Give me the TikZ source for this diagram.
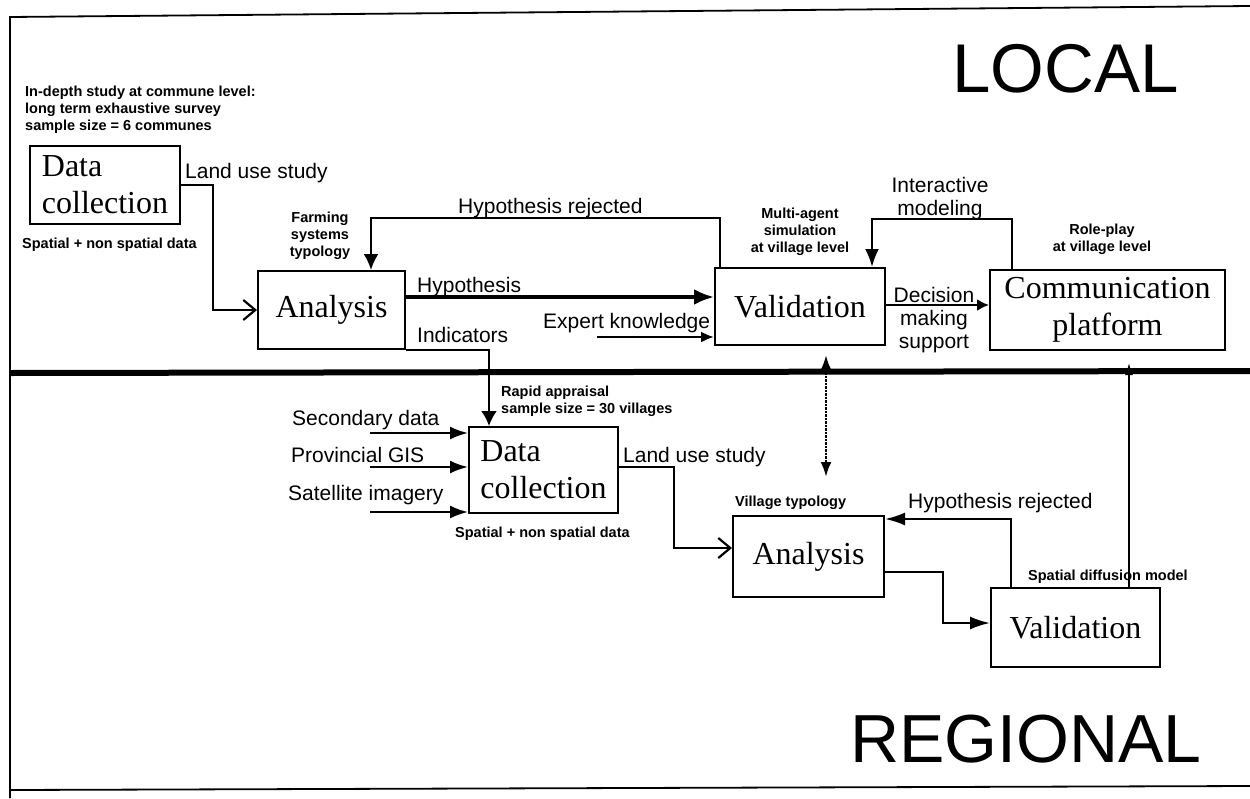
\documentclass[tikz,border=0pt]{standalone}
\usepackage{fontspec}
\setmainfont{Liberation Serif}
\setsansfont{Liberation Sans}
\usetikzlibrary{arrows.meta,calc}
\begin{document}
\begin{tikzpicture}[x=1pt,y=-1pt,
  box/.style={draw,line width=2pt,inner sep=0pt,align=center,font=\fontsize{32}{37}\selectfont},
  lbl/.style={inner sep=0pt,font=\sffamily\fontsize{21}{23.5}\selectfont},
  sml/.style={inner sep=0pt,font=\sffamily\bfseries\fontsize{14.5}{17}\selectfont},
  big/.style={inner sep=0pt,font=\sffamily\fontsize{69}{70}\selectfont},
  conn/.style={line width=2.2pt},
  frame/.style={line width=1.8pt}]
\useasboundingbox (0,0) rectangle (1250,798);
% frame and separator
\draw[frame] (1250,6) -- (10,17) -- (10,798);
\draw[frame] (10,790) -- (1250,786);
\draw[line width=6pt] (10,373) -- (1250,371);
% boxes
\node[box,minimum width=150pt,minimum height=78pt,align=left] (dcl) at (105,185) {Data\\collection};
\node[box,minimum width=147pt,minimum height=78pt] (anl) at (331.5,310) {Analysis};
\node[box,minimum width=170pt,minimum height=77pt] (vll) at (800,306.5) {Validation};
\node[box,minimum width=235pt,minimum height=80pt] (cpl) at (1107.5,310) {Communication\\platform};
\node[box,minimum width=149pt,minimum height=86pt,align=left] (dcr) at (543.5,470) {Data\\collection};
\node[box,minimum width=151pt,minimum height=81pt] (anr) at (808.5,556.5) {Analysis};
\node[box,minimum width=169pt,minimum height=79pt] (vlr) at (1075.5,627.5) {Validation};
% labels
\node[big,anchor=base west] (loc) at (952,92) {LOCAL};
\node[big,anchor=base west,font=\sffamily\fontsize{68}{70}\selectfont] (reg) at (850,762) {REGIONAL};
\node[sml,anchor=north west,align=left] (ind) at (25,86) {In-depth study at commune level:\\long term exhaustive survey\\sample size = 6 communes};
\node[lbl,anchor=base west] (lus1) at (185,178) {Land use study};
\node[sml,anchor=base west] (snd1) at (22,248) {Spatial + non spatial data};
\node[sml,anchor=north,align=center] (fst) at (320,212) {Farming\\systems\\typology};
\node[lbl,anchor=base west] (hr1) at (458,213) {Hypothesis rejected};
\node[lbl,anchor=base west] (hyp) at (417,292) {Hypothesis};
\node[lbl,anchor=base west] (indc) at (417,342) {Indicators};
\node[lbl,anchor=base west] (exk) at (543,328) {Expert knowledge};
\node[sml,anchor=north,align=center] (mas) at (800,208) {Multi-agent\\simulation\\at village level};
\node[lbl,anchor=north,align=center] (imo) at (940,177) {Interactive\\modeling};
\node[sml,anchor=north,align=center] (rpl) at (1102,224) {Role-play\\at village level};
\node[lbl,anchor=north,align=center,font=\sffamily\fontsize{21}{23}\selectfont] (dms) at (934,287) {Decision\\making\\support};
\node[sml,anchor=north west,align=left] (rap) at (501,386) {Rapid appraisal\\sample size = 30 villages};
\node[lbl,anchor=base west] (sec) at (292,425) {Secondary data};
\node[lbl,anchor=base west] (pgis) at (291,462) {Provincial GIS};
\node[lbl,anchor=base west] (sat) at (288,500) {Satellite imagery};
\node[lbl,anchor=base west] (lus2) at (623,462) {Land use study};
\node[sml,anchor=base west] (snd2) at (455,537) {Spatial + non spatial data};
\node[sml,anchor=base west] (vty) at (735,506) {Village typology};
\node[lbl,anchor=base west] (hr2) at (908,508) {Hypothesis rejected};
\node[sml,anchor=base west] (sdm) at (1028,580) {Spatial diffusion model};
% local connectors
\draw[conn,-{Straight Barb[length=12pt,width=20pt]}] (dcl.east) -- ++(32,0) |- (anl.west);
\draw[conn,-{Latex[length=16pt,width=15pt]}] ($(vll.north west)+(6,0)$) -- ++(0,-49) -| ($(anl.north east)+(-35,0)$);
\draw[line width=3.5pt,-{Latex[length=20pt,width=16pt]}] ($(anl.east)+(0,-13)$) -- ($(vll.west)+(0,-9.5)$);
\draw[conn,-{Latex[length=15pt,width=16pt]}] (anl.south east) -| ($(dcr.north west)+(21,0)$);
\coordinate (ek) at (597,337);
\draw[conn,-{Latex[length=13pt,width=11pt]}] (ek) -- (ek -| vll.west);
\coordinate (dm) at ($(vll.east)+(0,-1.5)$);
\draw[conn,-{Latex[length=12pt,width=12pt]}] (dm) -- (dm -| cpl.west);
\draw[conn,-{Latex[length=18pt,width=14pt]}] ($(cpl.north west)+(23,0)$) -- ++(0,-50) -| ($(vll.north east)+(-14,0)$);
% link between levels
\coordinate (dtop) at (826,355);
\coordinate (dbot) at (826,477);
\draw[line width=2.5pt,densely dotted,{Latex[length=15pt,width=11pt]}-{Latex[length=15pt,width=11pt]}] (dtop) -- (dbot);
% regional connectors
\coordinate (s1) at (370,433);
\coordinate (s2) at (370,467);
\coordinate (s3) at (370,512);
\draw[conn,-{Latex[length=18pt,width=13pt]}] (s1) -- (s1 -| dcr.west);
\draw[conn,-{Latex[length=18pt,width=13pt]}] (s2) -- (s2 -| dcr.west);
\draw[conn,-{Latex[length=18pt,width=13pt]}] (s3) -- (s3 -| dcr.west);
\draw[conn,-{Straight Barb[length=12pt,width=20pt]}] ($(dcr.east)+(0,-3)$) -- ++(55,0) |- ($(anr.west)+(0,-8.5)$);
\draw[conn,-{Latex[length=20pt,width=13pt]}] ($(vlr.north west)+(21,0)$) |- ($(anr.east)+(0,-37.5)$);
\draw[conn,-{Latex[length=20pt,width=13pt]}] ($(anr.east)+(0,15.5)$) -- ++(58,0) |- ($(vlr.west)+(0,-4.5)$);
\coordinate (sd) at ($(vlr.north west)+(139,0)$);
\draw[line width=1.5pt,-{Latex[length=12pt,width=8pt]},shorten >=12pt] (sd) -- (sd |- cpl.south);
\end{tikzpicture}
\end{document}
